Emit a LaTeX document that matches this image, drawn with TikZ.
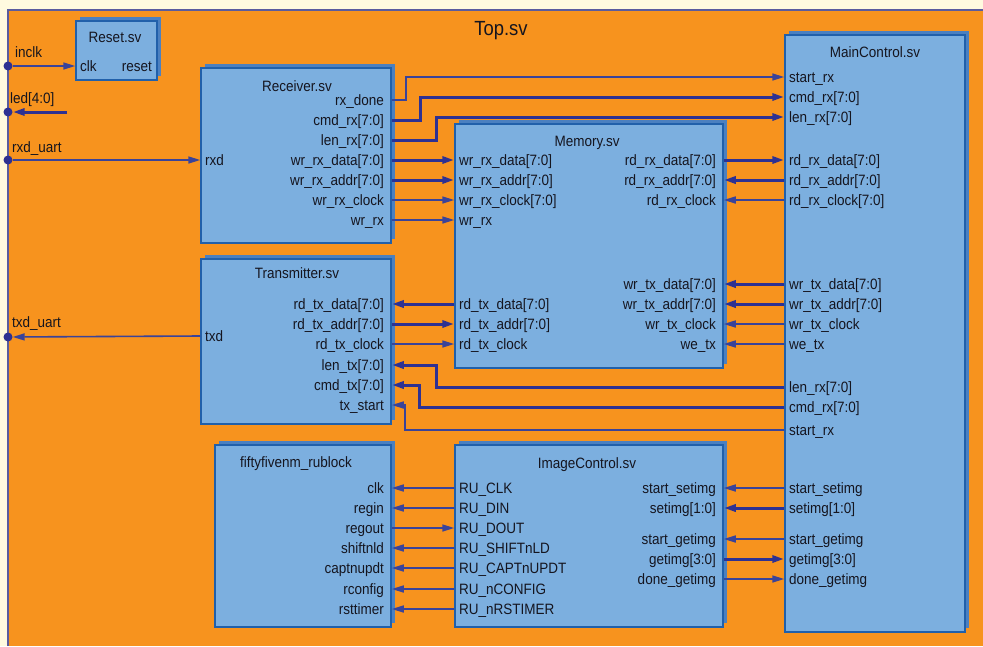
\documentclass[tikz,border=0pt]{standalone}
\usepackage{fontspec}
\setmainfont{Liberation Sans}[FakeStretch=0.9]
\usetikzlibrary{arrows.meta,fit}
\definecolor{creamc}{HTML}{FFFADF}
\definecolor{orangec}{HTML}{F7931E}
\definecolor{framec}{HTML}{5A5C9E}
\definecolor{boxfill}{HTML}{7CAFDF}
\definecolor{boxline}{HTML}{2160AA}
\definecolor{shadowc}{HTML}{4B80C0}
\definecolor{wirec}{HTML}{2E3192}
\definecolor{wirelt}{HTML}{3A4399}
\definecolor{txtc}{HTML}{15151F}
\newcommand\modbox[5]{%
  \fill[shadowc] ({#2+4},{#3-4}) rectangle ({#4+4},{#5-4});
  \node[box, fit={(#2,#3) (#4,#5)}] (#1) {};
}
\tikzset{
  pl/.style={font=\fontsize{15}{17}\selectfont, text=txtc, inner sep=0pt, text height=12.5pt, text depth=1.5pt},
  bigt/.style={font=\fontsize{20.5}{24}\selectfont, text=txtc, inner sep=0pt},
  box/.style={draw=boxline, line width=1.5pt, fill=boxfill, inner sep=0pt},
  wthin/.style={draw=wirelt, line width=1.6pt},
  wthick/.style={draw=wirec, line width=3pt},
  tip/.style={-{Triangle[length=12pt,width=7pt]}},
  dot/.style={circle, fill=wirec, inner sep=0pt, minimum size=9pt},
}
\begin{document}
\begin{tikzpicture}[x=1pt,y=-1pt]
\useasboundingbox (0,0) rectangle (983,646);
\fill[creamc] (0,0) rectangle (983,646);
\fill[orangec] (8,10) rectangle (983,646);
\draw[framec, line width=2pt] (8,646) -- (8,10) -- (983,10);
\node[bigt] (top) at (501,31) {Top.sv};

% ---------- Reset
\modbox{reset}{76}{21}{157}{80}
\node[pl] (reset-t) at (115,37) {Reset.sv};
\node[pl, anchor=west] (reset-clk) at (80,66) {clk};
\node[pl, anchor=east] (reset-rst) at (152,66) {reset};

% ---------- Receiver
\modbox{rcv}{201}{68}{391}{243}
\node[pl] (rcv-t) at (297,86) {Receiver.sv};
\node[pl, anchor=west] (rcv-rxd) at (205,160) {rxd};
\node[pl, anchor=east] (rcv-rxdone) at (384,100) {rx\_done};
\node[pl, anchor=east] (rcv-cmd) at (384,120) {cmd\_rx[7:0]};
\node[pl, anchor=east] (rcv-len) at (384,140) {len\_rx[7:0]};
\node[pl, anchor=east] (rcv-wdata) at (384,160) {wr\_rx\_data[7:0]};
\node[pl, anchor=east] (rcv-waddr) at (384,180) {wr\_rx\_addr[7:0]};
\node[pl, anchor=east] (rcv-wclk) at (384,200) {wr\_rx\_clock};
\node[pl, anchor=east] (rcv-wr) at (384,220) {wr\_rx};

% ---------- Memory
\modbox{mem}{455}{124}{723}{368}
\node[pl] (mem-t) at (587,141) {Memory.sv};
\node[pl, anchor=west] (mem-wdata) at (459,160) {wr\_rx\_data[7:0]};
\node[pl, anchor=west] (mem-waddr) at (459,180) {wr\_rx\_addr[7:0]};
\node[pl, anchor=west] (mem-wclk) at (459,200) {wr\_rx\_clock[7:0]};
\node[pl, anchor=west] (mem-wr) at (459,220) {wr\_rx};
\node[pl, anchor=west] (mem-tdata) at (459,304) {rd\_tx\_data[7:0]};
\node[pl, anchor=west] (mem-taddr) at (459,324) {rd\_tx\_addr[7:0]};
\node[pl, anchor=west] (mem-tclk) at (459,344) {rd\_tx\_clock};
\node[pl, anchor=east] (mem-rdata) at (716,160) {rd\_rx\_data[7:0]};
\node[pl, anchor=east] (mem-raddr) at (716,180) {rd\_rx\_addr[7:0]};
\node[pl, anchor=east] (mem-rclk) at (716,200) {rd\_rx\_clock};
\node[pl, anchor=east] (mem-xdata) at (716,284) {wr\_tx\_data[7:0]};
\node[pl, anchor=east] (mem-xaddr) at (716,304) {wr\_tx\_addr[7:0]};
\node[pl, anchor=east] (mem-xclk) at (716,324) {wr\_tx\_clock};
\node[pl, anchor=east] (mem-we) at (716,344) {we\_tx};

% ---------- MainControl
\modbox{mc}{785}{35}{965}{632}
\node[pl] (mc-t) at (875,52) {MainControl.sv};
\node[pl, anchor=west] (mc-start) at (789,77) {start\_rx};
\node[pl, anchor=west] (mc-cmd) at (789,97) {cmd\_rx[7:0]};
\node[pl, anchor=west] (mc-len) at (789,117) {len\_rx[7:0]};
\node[pl, anchor=west] (mc-rdata) at (789,160) {rd\_rx\_data[7:0]};
\node[pl, anchor=west] (mc-raddr) at (789,180) {rd\_rx\_addr[7:0]};
\node[pl, anchor=west] (mc-rclk) at (789,200) {rd\_rx\_clock[7:0]};
\node[pl, anchor=west] (mc-xdata) at (789,284) {wr\_tx\_data[7:0]};
\node[pl, anchor=west] (mc-xaddr) at (789,304) {wr\_tx\_addr[7:0]};
\node[pl, anchor=west] (mc-xclk) at (789,324) {wr\_tx\_clock};
\node[pl, anchor=west] (mc-we) at (789,344) {we\_tx};
\node[pl, anchor=west] (mc-len2) at (789,387) {len\_rx[7:0]};
\node[pl, anchor=west] (mc-cmd2) at (789,407) {cmd\_rx[7:0]};
\node[pl, anchor=west] (mc-start2) at (789,430) {start\_rx};
\node[pl, anchor=west] (mc-sset) at (789,488) {start\_setimg};
\node[pl, anchor=west] (mc-set) at (789,508) {setimg[1:0]};
\node[pl, anchor=west] (mc-sget) at (789,539) {start\_getimg};
\node[pl, anchor=west] (mc-get) at (789,559) {getimg[3:0]};
\node[pl, anchor=west] (mc-dget) at (789,579) {done\_getimg};

% ---------- Transmitter
\modbox{tx}{201}{259}{391}{424}
\node[pl] (tx-t) at (297,273) {Transmitter.sv};
\node[pl, anchor=west] (tx-txd) at (205,336) {txd};
\node[pl, anchor=east] (tx-data) at (384,304) {rd\_tx\_data[7:0]};
\node[pl, anchor=east] (tx-addr) at (384,324) {rd\_tx\_addr[7:0]};
\node[pl, anchor=east] (tx-clk) at (384,344) {rd\_tx\_clock};
\node[pl, anchor=east] (tx-len) at (384,365) {len\_tx[7:0]};
\node[pl, anchor=east] (tx-cmd) at (384,385) {cmd\_tx[7:0]};
\node[pl, anchor=east] (tx-start) at (384,405) {tx\_start};

% ---------- fiftyfivenm_rublock
\modbox{rub}{215}{445}{391}{627}
\node[pl] (rub-t) at (296,462) {fiftyfivenm\_rublock};
\node[pl, anchor=east] (rub-clk) at (384,488) {clk};
\node[pl, anchor=east] (rub-regin) at (384,508) {regin};
\node[pl, anchor=east] (rub-regout) at (384,528) {regout};
\node[pl, anchor=east] (rub-shift) at (384,548) {shiftnld};
\node[pl, anchor=east] (rub-capt) at (384,568) {captnupdt};
\node[pl, anchor=east] (rub-rconf) at (384,589) {rconfig};
\node[pl, anchor=east] (rub-rst) at (384,609) {rsttimer};

% ---------- ImageControl
\modbox{img}{455}{445}{723}{627}
\node[pl] (img-t) at (587,463) {ImageControl.sv};
\node[pl, anchor=west] (img-clk) at (459,488) {RU\_CLK};
\node[pl, anchor=west] (img-din) at (459,508) {RU\_DIN};
\node[pl, anchor=west] (img-dout) at (459,528) {RU\_DOUT};
\node[pl, anchor=west] (img-shift) at (459,548) {RU\_SHIFTnLD};
\node[pl, anchor=west] (img-capt) at (459,568) {RU\_CAPTnUPDT};
\node[pl, anchor=west] (img-conf) at (459,589) {RU\_nCONFIG};
\node[pl, anchor=west] (img-rst) at (459,609) {RU\_nRSTIMER};
\node[pl, anchor=east] (img-sset) at (716,488) {start\_setimg};
\node[pl, anchor=east] (img-set) at (716,508) {setimg[1:0]};
\node[pl, anchor=east] (img-sget) at (716,539) {start\_getimg};
\node[pl, anchor=east] (img-get) at (716,559) {getimg[3:0]};
\node[pl, anchor=east] (img-dget) at (716,579) {done\_getimg};

% ---------- top-level pins
\node[dot] (inclk) at (8,66) {};
\node[dot] (led) at (8,112) {};
\node[dot] (rxdu) at (8,160) {};
\node[dot] (txdu) at (8,337) {};
\node[pl, anchor=west] (inclk-l) at (15,52) {inclk};
\node[pl, anchor=west] (led-l) at (10,98) {led[4:0]};
\node[pl, anchor=west] (rxdu-l) at (12,147) {rxd\_uart};
\node[pl, anchor=west] (txdu-l) at (12,322) {txd\_uart};
\coordinate (ledend) at (67,112);

\draw[wthin, tip] (inclk) -- (reset.west |- reset-clk);
\draw[wthick, tip] (ledend) -- (led);
\draw[wthin, tip] (rxdu) -- (rcv.west |- rcv-rxd);
\draw[wthin, tip] (tx.west |- tx-txd) -- (txdu);

% Receiver -> MainControl
\draw[wthin, tip] (rcv.east |- rcv-rxdone) -- ([xshift=14pt]rcv.east |- rcv-rxdone) |- (mc.west |- mc-start);
\draw[wthick, tip] (rcv.east |- rcv-cmd) -- ([xshift=29pt]rcv.east |- rcv-cmd) |- (mc.west |- mc-cmd);
\draw[wthick, tip] (rcv.east |- rcv-len) -- ([xshift=45pt]rcv.east |- rcv-len) |- (mc.west |- mc-len);

% Receiver -> Memory
\draw[wthick, tip] (rcv.east |- rcv-wdata) -- (mem.west |- mem-wdata);
\draw[wthick, tip] (rcv.east |- rcv-waddr) -- (mem.west |- mem-waddr);
\draw[wthin, tip] (rcv.east |- rcv-wclk) -- (mem.west |- mem-wclk);
\draw[wthin, tip] (rcv.east |- rcv-wr) -- (mem.west |- mem-wr);

% Memory <-> MainControl
\draw[wthick, tip] (mem.east |- mem-rdata) -- (mc.west |- mc-rdata);
\draw[wthick, tip] (mc.west |- mc-raddr) -- (mem.east |- mem-raddr);
\draw[wthin, tip] (mc.west |- mc-rclk) -- (mem.east |- mem-rclk);
\draw[wthick, tip] (mc.west |- mc-xdata) -- (mem.east |- mem-xdata);
\draw[wthick, tip] (mc.west |- mc-xaddr) -- (mem.east |- mem-xaddr);
\draw[wthin, tip] (mc.west |- mc-xclk) -- (mem.east |- mem-xclk);
\draw[wthin, tip] (mc.west |- mc-we) -- (mem.east |- mem-we);

% Memory <-> Transmitter
\draw[wthick, tip] (mem.west |- mem-tdata) -- (tx.east |- tx-data);
\draw[wthick, tip] (tx.east |- tx-addr) -- (mem.west |- mem-taddr);
\draw[wthin, tip] (tx.east |- tx-clk) -- (mem.west |- mem-tclk);

% MainControl -> Transmitter
\draw[wthick, tip] (mc.west |- mc-len2) -- ([xshift=45pt]tx.east |- mc-len2) |- (tx.east |- tx-len);
\draw[wthick, tip] (mc.west |- mc-cmd2) -- ([xshift=28pt]tx.east |- mc-cmd2) |- (tx.east |- tx-cmd);
\draw[wthin, tip] (mc.west |- mc-start2) -- ([xshift=13pt]tx.east |- mc-start2) |- (tx.east |- tx-start);

% ImageControl <-> rublock
\draw[wthin, tip] (img.west |- img-clk) -- (rub.east |- rub-clk);
\draw[wthin, tip] (img.west |- img-din) -- (rub.east |- rub-regin);
\draw[wthin, tip] (rub.east |- rub-regout) -- (img.west |- img-dout);
\draw[wthin, tip] (img.west |- img-shift) -- (rub.east |- rub-shift);
\draw[wthin, tip] (img.west |- img-capt) -- (rub.east |- rub-capt);
\draw[wthin, tip] (img.west |- img-conf) -- (rub.east |- rub-rconf);
\draw[wthin, tip] (img.west |- img-rst) -- (rub.east |- rub-rst);

% MainControl <-> ImageControl
\draw[wthin, tip] (mc.west |- mc-sset) -- (img.east |- img-sset);
\draw[wthick, tip] (mc.west |- mc-set) -- (img.east |- img-set);
\draw[wthin, tip] (mc.west |- mc-sget) -- (img.east |- img-sget);
\draw[wthick, tip] (img.east |- img-get) -- (mc.west |- mc-get);
\draw[wthin, tip] (img.east |- img-dget) -- (mc.west |- mc-dget);
\end{tikzpicture}
\end{document}
